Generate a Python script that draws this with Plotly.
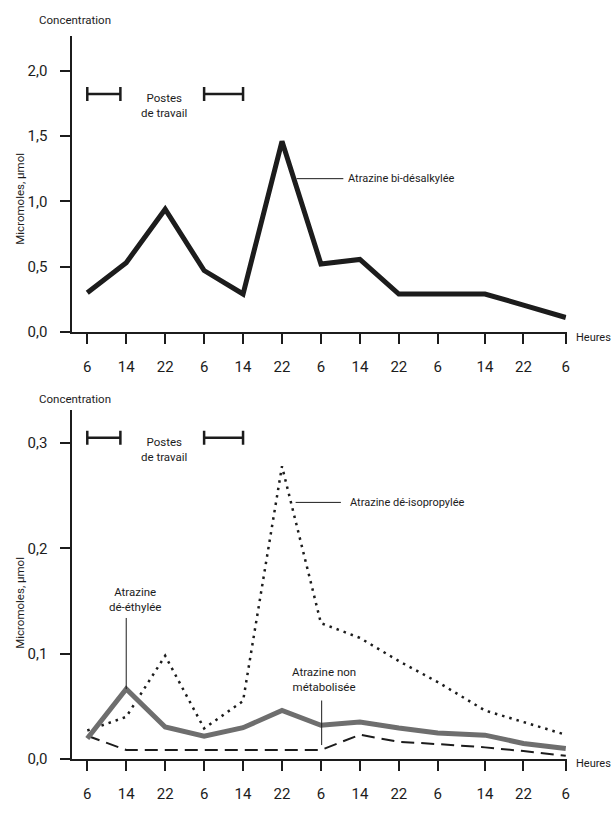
import plotly.graph_objects as go

# ---- data ----
hours = [0, 8, 16, 24, 32, 40, 48, 56, 64, 72, 81.7, 89.6, 98.3]
tick_labels = ["6", "14", "22", "6", "14", "22", "6", "14", "22", "6", "14", "22", "6"]

bi_desalkylee = [0.30, 0.53, 0.94, 0.47, 0.29, 1.46, 0.52, 0.555, 0.29, 0.29, 0.29, 0.205, 0.11]
de_isopropylee = [0.027, 0.040, 0.098, 0.029, 0.055, 0.278, 0.129, 0.115, 0.093, 0.073, 0.046, 0.035, 0.023]
de_ethylee = [0.0194, 0.0664, 0.0304, 0.0216, 0.0297, 0.046, 0.032, 0.035, 0.0294, 0.0247, 0.0226, 0.0147, 0.010]
non_metabolisee = [0.022, 0.0085, 0.0085, 0.0085, 0.0085, 0.0085, 0.0085, 0.023, 0.0163, 0.0141, 0.011, 0.0075, 0.003]

shift_start = [0, 24]
shift_end = [6.8, 32]

top_yticks = [0.0, 0.5, 1.0, 1.5, 2.0]
bottom_yticks = [0.0, 0.1, 0.2, 0.3]

FONT = "Roboto, Liberation Sans, sans-serif"
INK = "#1c1c1c"

fig = go.Figure()

# top chart
fig.add_trace(go.Scatter(x=hours, y=bi_desalkylee, mode="lines",
                         line=dict(color=INK, width=5), xaxis="x", yaxis="y",
                         showlegend=False, hoverinfo="skip"))
# bottom chart
fig.add_trace(go.Scatter(x=hours, y=de_isopropylee, mode="lines",
                         line=dict(color=INK, width=2.5, dash="2.5px,5px"), xaxis="x2", yaxis="y2",
                         showlegend=False, hoverinfo="skip"))
fig.add_trace(go.Scatter(x=hours, y=non_metabolisee, mode="lines",
                         line=dict(color=INK, width=2, dash="13px,7px"), xaxis="x2", yaxis="y2",
                         showlegend=False, hoverinfo="skip"))
fig.add_trace(go.Scatter(x=hours, y=de_ethylee, mode="lines",
                         line=dict(color="#6e6e6e", width=5), xaxis="x2", yaxis="y2",
                         showlegend=False, hoverinfo="skip"))

# work-shift brackets
for xa, ya, yv in [("x", "y", 1.823), ("x2", "y2", 0.305)]:
    bx, by = [], []
    for s, e in zip(shift_start, shift_end):
        bx += [s, e, None]
        by += [yv, yv, None]
    fig.add_trace(go.Scatter(x=bx, y=by, mode="lines+markers", xaxis=xa, yaxis=ya,
                             line=dict(color=INK, width=2.5),
                             marker=dict(symbol="line-ns-open", size=10,
                                         line=dict(color=INK, width=2.5)),
                             showlegend=False, hoverinfo="skip"))

xdom = [72.7 / 613, 569.3 / 613]
xrange_ = [-3.07, 98.45]

common_x = dict(domain=xdom, range=xrange_, tickmode="array", tickvals=hours, ticktext=tick_labels,
                showline=True, linecolor=INK, linewidth=2, ticks="outside", ticklen=10, tickwidth=2,
                tickcolor=INK, showgrid=False, zeroline=False, fixedrange=True,
                tickfont=dict(family=FONT, size=15, color=INK), ticklabelstandoff=10)
common_y = dict(showline=True, linecolor=INK, linewidth=2, ticks="outside", ticklen=10, tickwidth=2,
                tickcolor=INK, showgrid=False, zeroline=False, fixedrange=True, tickformat=".1f",
                tickfont=dict(family=FONT, size=15, color=INK), ticklabelstandoff=10)

fig.update_layout(
    width=613, height=827, margin=dict(l=0, r=0, t=0, b=0),
    paper_bgcolor="white", plot_bgcolor="white", separators=",.",
    font=dict(family=FONT, color=INK, size=12),
    xaxis=dict(anchor="y", **common_x),
    yaxis=dict(anchor="x", domain=[1 - 335.5 / 827, 1 - 36.7 / 827], range=[0, 2.265],
               tickvals=top_yticks, **common_y),
    xaxis2=dict(anchor="y2", **common_x),
    yaxis2=dict(anchor="x2", domain=[1 - 767.3 / 827, 1 - 415 / 827], range=[0, 0.331],
                tickvals=bottom_yticks, **common_y),
)

# leader lines
shapes = [
    dict(type="line", xref="x", yref="y", x0=43.0, x1=52.6, y0=1.174, y1=1.174,
         line=dict(color=INK, width=1)),
    dict(type="line", xref="x2", yref="y2", x0=42.8, x1=52.1, y0=0.2437, y1=0.2437,
         line=dict(color=INK, width=1)),
    dict(type="line", xref="x2", yref="y2", x0=8, x1=8, y0=0.1339, y1=0.0664,
         line=dict(color=INK, width=1)),
    dict(type="line", xref="x2", yref="y2", x0=48.15, x1=48.15, y0=0.0555, y1=0.0132,
         line=dict(color=INK, width=1)),
]
fig.update_layout(shapes=shapes)

ann = []
def A(text, x, y, xref, yref, xanchor="center", yanchor="middle", size=11.5, angle=0):
    ann.append(dict(text=text, x=x, y=y, xref=xref, yref=yref, xanchor=xanchor, yanchor=yanchor,
                    showarrow=False, align="center", textangle=angle,
                    font=dict(family=FONT, size=size, color=INK)))

# axis titles / labels (paper coords)
A("Concentration", 37 / 613, 1 - 20.7 / 827, "paper", "paper", xanchor="left", size=11.5)
A("Concentration", 37 / 613, 1 - 403.3 / 827, "paper", "paper", xanchor="left", size=11.5)
A("Heures", 577 / 613, 1 - 341.7 / 827, "paper", "paper", xanchor="left", size=11)
A("Heures", 577 / 613, 1 - 771.7 / 827, "paper", "paper", xanchor="left", size=11)
for yc in [200.5, 609]:
    A("Micromoles, µmol", 20.5 / 613, 1 - yc / 827, "paper", "paper", size=11.5, angle=-90)

# in-plot labels
A("Postes<br>de travail", 15.8, 1.738, "x", "y")
A("Postes<br>de travail", 15.8, 0.294, "x2", "y2")
A("Atrazine bi-désalkylée", 53.2, 1.174, "x", "y", xanchor="left", size=11)
A("Atrazine dé-isopropylée", 53.5, 0.2437, "x2", "y2", xanchor="left", size=11)
A("Atrazine<br>dé-éthylée", 9.77, 0.1517, "x2", "y2")
A("Atrazine non<br>métabolisée", 48.56, 0.0758, "x2", "y2")

fig.update_layout(annotations=ann)

fig.write_html("out.html", config={"displayModeBar": False},
               post_script="document.body.style.margin='0';document.body.style.overflow='hidden';")
